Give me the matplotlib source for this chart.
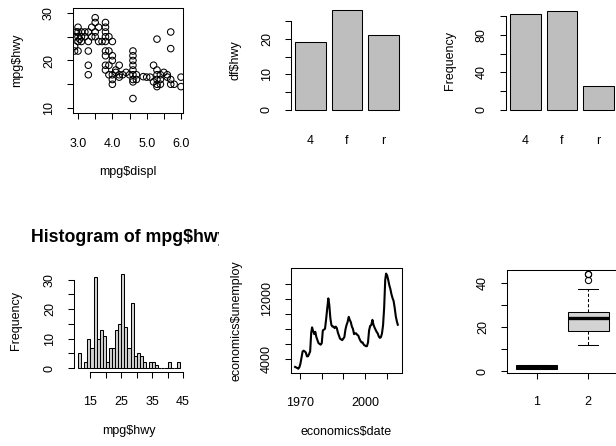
import matplotlib
matplotlib.use("Agg")
import matplotlib.pyplot as plt
import numpy as np
from matplotlib.transforms import Bbox, TransformedBbox

plt.rcParams["font.family"] = ["Liberation Sans", "DejaVu Sans"]
plt.rcParams["font.size"] = 9

# ---- data -------------------------------------------------------------
# engine displacement vs highway mileage
displ = [2.9, 3.0, 3.0, 3.0, 3.1, 3.1, 3.2, 3.3, 3.3, 2.9, 2.9, 3.0, 3.3,
         3.5, 3.5, 3.6, 3.4, 3.5, 3.8, 3.8, 3.8, 3.8, 3.8, 3.9, 4.0, 3.5,
         3.6, 3.8, 3.8, 3.9, 4.0, 4.0, 3.3, 3.3, 3.8, 3.8, 3.9, 4.0, 4.0,
         4.1, 4.2, 4.2, 4.4, 4.3, 4.0, 4.2, 4.6, 4.6, 4.6, 4.6, 4.6, 4.6,
         4.6, 4.6, 4.7, 4.7, 4.6, 5.0, 4.9, 5.1, 5.2, 5.3, 5.3, 5.3, 5.3,
         5.2, 5.4, 5.4, 5.3, 5.7, 5.7, 5.5, 5.6, 5.6, 5.7, 5.7, 5.8, 6.0,
         6.0, 3.0, 3.1, 2.95, 3.05, 3.2, 3.4, 3.7, 3.9, 4.1, 4.5, 5.3, 5.4]
hwy = [25, 26, 25, 24, 26, 25, 25, 26, 24, 23, 22, 22, 22,
       29, 28, 27, 27, 26, 28, 27, 26, 25, 24, 25, 24, 25,
       24, 22, 21, 22, 21, 20, 19, 17, 19, 18, 17, 17, 16,
       18, 17, 16.5, 17.5, 17, 15, 19, 22, 21, 20, 19, 18, 17,
       16, 15.5, 17, 16, 12, 16.5, 16.6, 16.5, 19, 18, 17, 16, 15,
       15.5, 16, 15, 24.5, 26, 22.5, 17.5, 17, 16.5, 15, 16, 15, 16.5,
       14.5, 27, 24, 26, 24.5, 26, 25, 24, 19, 17.5, 17, 14.5, 17]

# mean highway mileage and number of cars per drive train
drv_levels = ["4", "f", "r"]
mean_hwy_by_drv = [19.17, 28.16, 21.00]
count_by_drv = [103, 106, 25]

# highway mileage frequencies (bins of width 1 ending at each value)
hwy_values = [12, 13, 14, 15, 16, 17, 18, 19, 20, 21, 22, 23, 24, 25, 26, 27,
              28, 29, 30, 31, 32, 33, 34, 35, 36, 37, 38, 39, 40, 41, 42, 43, 44]
hwy_counts = [5, 0, 2, 10, 7, 31, 10, 13, 11, 2, 7, 7, 13, 15, 32, 14,
              7, 22, 4, 5, 4, 2, 0, 2, 2, 1, 0, 0, 0, 2, 0, 0, 2]

# unemployment (thousands) over time
econ_year = [1967.5, 1968.0, 1968.5, 1969.0, 1969.5, 1970.0, 1970.5, 1971.0,
             1971.5, 1972.0, 1972.5, 1973.0, 1973.5, 1974.0, 1974.5, 1975.0,
             1975.4, 1975.9, 1976.4, 1976.9, 1977.4, 1977.9, 1978.4, 1978.9,
             1979.4, 1979.9, 1980.4, 1980.9, 1981.4, 1981.9, 1982.4, 1982.95,
             1983.4, 1983.9, 1984.4, 1984.9, 1985.4, 1985.9, 1986.4, 1986.9,
             1987.4, 1987.9, 1988.4, 1988.9, 1989.4, 1989.9, 1990.4, 1990.9,
             1991.4, 1991.9, 1992.45, 1992.9, 1993.4, 1993.9, 1994.4, 1994.9,
             1995.4, 1995.9, 1996.4, 1996.9, 1997.4, 1997.9, 1998.4, 1998.9,
             1999.4, 1999.9, 2000.4, 2000.9, 2001.4, 2001.9, 2002.4, 2002.9,
             2003.45, 2003.9, 2004.4, 2004.9, 2005.4, 2005.9, 2006.4, 2006.9,
             2007.4, 2007.9, 2008.4, 2008.9, 2009.4, 2009.8, 2010.3, 2010.8,
             2011.3, 2011.8, 2012.3, 2012.8, 2013.3, 2013.8, 2014.3, 2014.8,
             2015.25]
econ_unemploy = [2944, 2870, 2800, 2700, 2900, 3400, 4200, 5000,
                 5100, 5000, 4850, 4350, 4350, 4650, 5000, 7500,
                 8200, 7700, 7300, 7600, 6900, 6500, 6100, 6000,
                 5900, 6100, 7800, 7900, 8000, 9200, 10600, 12051,
                 11200, 9400, 8500, 8300, 8300, 8100, 8300, 8100,
                 7500, 7100, 6700, 6600, 6500, 6700, 6900, 7900,
                 8500, 8900, 9600, 9200, 8900, 8300, 8000, 7300,
                 7400, 7400, 7200, 7100, 6700, 6400, 6200, 6200,
                 5900, 5800, 5700, 5700, 6200, 7800, 8400, 8500,
                 9200, 8600, 8200, 7900, 7600, 7400, 7000, 6800,
                 6900, 7400, 8500, 10800, 14500, 15352, 15100, 14500,
                 13800, 13300, 12600, 12100, 11700, 10800, 9700, 9000,
                 8549]

# five-number summaries for the two boxes
box_names = ["1", "2"]
box_whislo = [1, 12]
box_q1 = [1, 18]
box_med = [2, 24]
box_q3 = [3, 27]
box_whishi = [3, 37]
box_fliers = [[], [41, 44, 44]]

# ---- figure -----------------------------------------------------------
W, H = 616, 446
fig = plt.figure(figsize=(W / 100, H / 100), dpi=100, facecolor="white")


def panel(left, top, right, bottom):
    return fig.add_axes([left / W, 1 - bottom / H, (right - left) / W,
                         (bottom - top) / H])


def r_axes(ax, xpad=13.5, ypad=9.0):
    ax.tick_params(direction="out", length=4, width=0.75, labelsize=9,
                   colors="black")
    ax.tick_params(axis="x", pad=xpad)
    ax.tick_params(axis="y", pad=ypad, labelrotation=90)
    for sp in ax.spines.values():
        sp.set_linewidth(0.75)


def rotate_ylabels(ax):
    for lab in ax.get_yticklabels():
        lab.set_verticalalignment("center")


def place_labels(ax, xlab=None, ylab=None, xy=-0.56, yx=-0.5):
    if xlab is not None:
        ax.set_xlabel(xlab, fontsize=9)
        ax.xaxis.set_label_coords(0.5, xy)
        ax.xaxis.label.set_verticalalignment("center")
    if ylab is not None:
        ax.set_ylabel(ylab, fontsize=9)
        ax.yaxis.set_label_coords(yx, 0.5)
        ax.yaxis.label.set_verticalalignment("center")


# 1: scatter plot
ax1 = panel(73, 8, 183, 113)
ax1.scatter(displ, hwy, s=22, facecolors="none", edgecolors="black",
            linewidths=0.75)
ax1.set_xlim(2.854, 6.058)
ax1.set_ylim(8.95, 31.05)
ax1.set_xticks([3.0, 3.5, 4.0, 4.5, 5.0, 5.5, 6.0],
               ["3.0", "", "4.0", "", "5.0", "", "6.0"])
ax1.set_yticks([10, 15, 20, 25, 30], ["10", "", "20", "", "30"])
r_axes(ax1, xpad=14.0)
rotate_ylabels(ax1)
place_labels(ax1, "mpg$displ", "mpg$hwy", xy=-0.56, yx=-0.51)

# 2: mean highway mileage by drive
bar_x = [0.7, 1.9, 3.1]
ax2 = panel(291, 8, 403, 113)
ax2.bar(bar_x, mean_hwy_by_drv, width=1.0, color="#bebebe",
        edgecolor="black", linewidth=0.75)
ax2.set_xlim(0.07, 3.73)
ax2.set_ylim(-0.85, 28.73)
ax2.set_xticks(bar_x, drv_levels)
ax2.set_yticks([0, 5, 10, 15, 20, 25], ["0", "", "10", "", "20", ""])
r_axes(ax2, xpad=16.0)
ax2.tick_params(axis="x", length=0)
rotate_ylabels(ax2)
for side in ("top", "right", "bottom"):
    ax2.spines[side].set_visible(False)
ax2.spines["left"].set_bounds(0, 25)
place_labels(ax2, ylab="df$hwy", yx=-0.5)

# 3: counts by drive
ax3 = panel(506, 8, 618, 113)
ax3.bar(bar_x, count_by_drv, width=1.0, color="#bebebe",
        edgecolor="black", linewidth=0.75)
ax3.set_xlim(0.07, 3.73)
ax3.set_ylim(-3.5, 109)
ax3.set_xticks(bar_x, drv_levels)
ax3.set_yticks([0, 20, 40, 60, 80, 100], ["0", "", "40", "", "80", ""])
r_axes(ax3, xpad=16.0)
ax3.tick_params(axis="x", length=0)
rotate_ylabels(ax3)
for side in ("top", "right", "bottom"):
    ax3.spines[side].set_visible(False)
ax3.spines["left"].set_bounds(0, 100)
place_labels(ax3, ylab="Frequency", yx=-0.5)

# 4: histogram of highway mileage
ax4 = panel(74, 270, 184, 372)
ax4.bar(np.array(hwy_values) - 1, hwy_counts, width=1.0, align="edge",
        color="#d3d3d3", edgecolor="black", linewidth=0.75)
ax4.set_xlim(9.68, 45.32)
ax4.set_ylim(-1.28, 33.28)
ax4.set_xticks([15, 20, 25, 30, 35, 40, 45],
               ["15", "", "25", "", "35", "", "45"])
ax4.set_yticks([0, 5, 10, 15, 20, 25, 30],
               ["0", "", "10", "", "20", "", "30"])
r_axes(ax4, xpad=13.0)
rotate_ylabels(ax4)
for side in ("top", "right"):
    ax4.spines[side].set_visible(False)
ax4.spines["left"].set_bounds(0, 30)
ax4.spines["bottom"].set_bounds(15, 45)
place_labels(ax4, "mpg$hwy", "Frequency", xy=-0.58, yx=-0.53)
title = ax4.set_title("Histogram of mpg$hwy", fontsize=12.8,
                      fontweight="bold", pad=20.5)
title.set_clip_on(True)
title.set_clip_box(TransformedBbox(Bbox.from_extents(0, 0, 219 / W, 1),
                                   fig.transFigure))

# 5: unemployment over time
ax5 = panel(291, 268, 402, 373)
ax5.plot(econ_year, econ_unemploy, color="black", linewidth=1.5)
ax5.set_xlim(1965.6, 2017.2)
ax5.set_ylim(2133, 16093)
ax5.set_xticks([1970, 1980, 1990, 2000, 2010], ["1970", "", "", "2000", ""])
ax5.set_yticks([4000, 6000, 8000, 10000, 12000, 14000],
               ["4000", "", "", "", "12000", ""])
r_axes(ax5, xpad=13.0)
rotate_ylabels(ax5)
place_labels(ax5, "economics$date", "economics$unemploy", xy=-0.56, yx=-0.49)

# 6: box plots
ax6 = panel(507, 270, 618, 373)
stats = []
for i in range(len(box_names)):
    stats.append(dict(whislo=box_whislo[i], q1=box_q1[i], med=box_med[i],
                      q3=box_q3[i], whishi=box_whishi[i],
                      fliers=box_fliers[i], label=box_names[i]))
ax6.bxp(stats, positions=[1, 2], widths=0.8, patch_artist=True,
        boxprops=dict(facecolor="#d3d3d3", edgecolor="black", linewidth=0.75),
        medianprops=dict(color="black", linewidth=2.4, solid_capstyle="butt"),
        whiskerprops=dict(color="black", linewidth=0.75, linestyle=(0, (3, 2))),
        capprops=dict(color="black", linewidth=0.75), capwidths=0.4,
        flierprops=dict(marker="o", markerfacecolor="none",
                        markeredgecolor="black", markersize=4.5,
                        markeredgewidth=0.75))
ax6.set_xlim(0.42, 2.58)
ax6.set_ylim(-0.72, 45.72)
ax6.set_xticks([1, 2], box_names)
ax6.set_yticks([0, 10, 20, 30, 40], ["0", "", "20", "", "40"])
r_axes(ax6, xpad=12.5)
rotate_ylabels(ax6)

fig.savefig("out.png", dpi=100, facecolor="white")
